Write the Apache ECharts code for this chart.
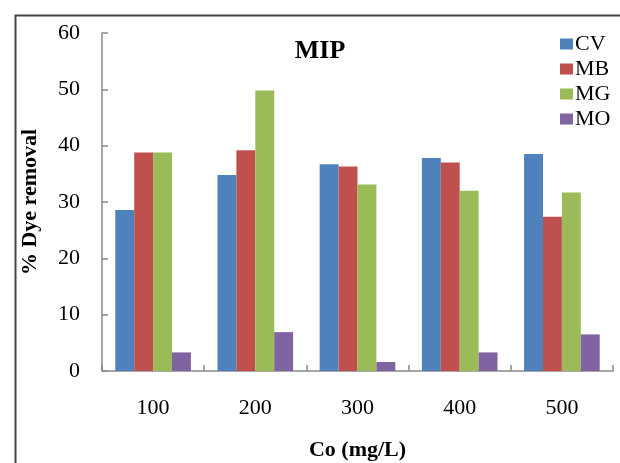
<!DOCTYPE html>
<html>
<head>
<meta charset="utf-8">
<script src="https://cdn.jsdelivr.net/npm/echarts@6/dist/echarts.min.js"></script>
<style>html,body{margin:0;padding:0;background:#fff;}#c{width:620px;height:463px;}</style>
</head>
<body>
<div id="c"></div>
<script>
const categories = ['100', '200', '300', '400', '500'];
const CV = [28.6, 34.8, 36.7, 37.8, 38.5];
const MB = [38.8, 39.2, 36.3, 37.0, 27.4];
const MG = [38.8, 49.8, 33.1, 32.0, 31.7];
const MO = [3.3, 6.9, 1.6, 3.3, 6.5];
const yTicks = [0, 10, 20, 30, 40, 50, 60];

const font = 'Liberation Serif, Times New Roman, serif';
const chart = echarts.init(document.getElementById('c'), null, {renderer: 'canvas'});
const axisColor = '#8a8a8a';
chart.setOption({
  animation: false,
  backgroundColor: '#fff',
  title: {
    text: 'MIP', left: 315, top: 33, textAlign: 'center',
    textStyle: {fontFamily: font, fontWeight: 'bold', fontSize: 26, color: '#000'}
  },
  legend: {
    orient: 'vertical', left: 555, top: 28,
    itemWidth: 13, itemHeight: 11, itemGap: 3,
    icon: 'rect',
    textStyle: {fontFamily: font, fontSize: 22, color: '#000', padding: [0,0,0,-3]},
    data: ['CV', 'MB', 'MG', 'MO']
  },
  grid: {left: 102, top: 33, right: 7, bottom: 92, outerBoundsMode: 'none', containLabel: false},
  xAxis: {
    type: 'category', data: categories,
    name: 'Co (mg/L)', nameLocation: 'middle', nameGap: 68,
    nameTextStyle: {fontFamily: font, fontWeight: 'bold', fontSize: 22, color: '#000'},
    axisLine: {lineStyle: {color: axisColor, width: 1.5}},
    axisTick: {show: true, inside: true, length: 6, lineStyle: {color: axisColor, width: 1.5}},
    axisLabel: {fontFamily: font, fontSize: 22, color: '#000', margin: 26}
  },
  yAxis: {
    type: 'value', min: yTicks[0], max: yTicks[yTicks.length - 1], interval: 10,
    name: '% Dye removal', nameLocation: 'middle', nameGap: 61,
    nameTextStyle: {fontFamily: font, fontWeight: 'bold', fontSize: 22, color: '#000'},
    axisLine: {show: true, lineStyle: {color: axisColor, width: 1.5}},
    axisTick: {show: true, inside: true, length: 6, lineStyle: {color: axisColor, width: 1.5}},
    splitLine: {show: false},
    axisLabel: {fontFamily: font, fontSize: 22, color: '#000', margin: 22}
  },
  graphic: [{
    type: 'rect', left: 13, top: 13, silent: true, z: 100,
    shape: {width: 700, height: 600},
    style: {fill: 'none', stroke: '#444', lineWidth: 2}
  }],
  series: [
    {name: 'CV', type: 'bar', data: CV, itemStyle: {color: '#4F81BD'}, barGap: '0%', barCategoryGap: '26%'},
    {name: 'MB', type: 'bar', data: MB, itemStyle: {color: '#C0504D'}},
    {name: 'MG', type: 'bar', data: MG, itemStyle: {color: '#9BBB59'}},
    {name: 'MO', type: 'bar', data: MO, itemStyle: {color: '#8064A2'}}
  ]
});
</script>
</body>
</html>
